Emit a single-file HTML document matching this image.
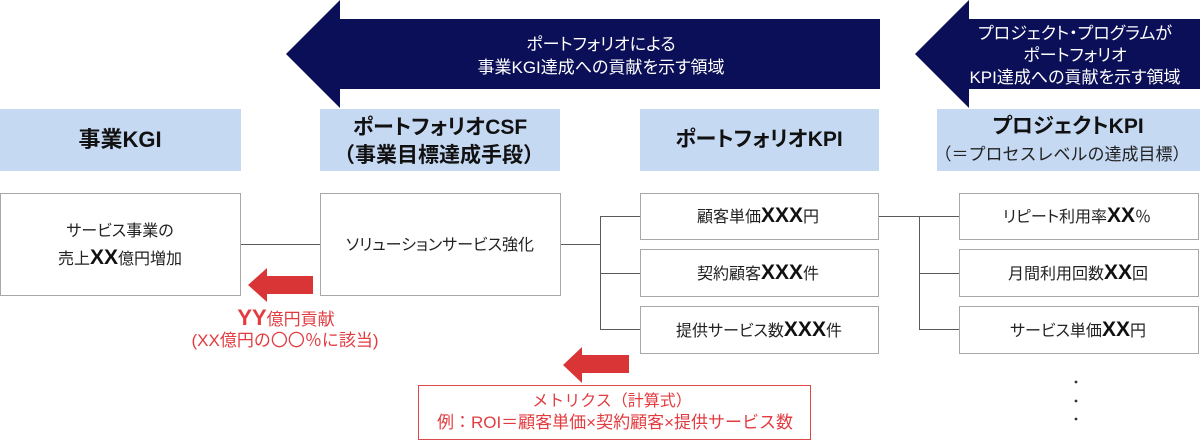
<!DOCTYPE html>
<html lang="ja">
<head>
<meta charset="utf-8">
<style>
  html,body{margin:0;padding:0;background:#fff;}
  body{width:1200px;height:445px;position:relative;overflow:hidden;
    font-family:"Liberation Sans","Noto Sans CJK JP",sans-serif;color:#1e1e1e;}
  svg{position:absolute;left:0;top:0;}
  .t{position:absolute;white-space:nowrap;text-align:center;transform:translateX(-50%);}
  .p{font-feature-settings:"palt";}
  .w{color:#fff;font-size:17px;line-height:23px;}
  .h{font-weight:bold;color:#111;}
  .n{font-size:16px;line-height:24px;color:#222;}
  .x{font-weight:bold;font-size:21px;color:#111;}
  .r{color:#e23c40;}
</style>
</head>
<body>
<svg width="1200" height="445" viewBox="0 0 1200 445">
  <polygon points="286,54 340,0 340,19 880,19 880,89 340,89 340,108" fill="#0b0f57"/>
  <polygon points="915,54 969,0 969,19 1200,19 1200,89 969,89 969,108" fill="#0b0f57"/>
  <rect x="0" y="109" width="241" height="62" fill="#c6d9f3"/>
  <rect x="320" y="109" width="240" height="62" fill="#c6d9f3"/>
  <rect x="640" y="109" width="239" height="62" fill="#c6d9f3"/>
  <rect x="937" y="109" width="263" height="62" fill="#c6d9f3"/>
  <g stroke="#5a5a5a" stroke-width="1" fill="none">
    <line x1="241" y1="244.5" x2="320" y2="244.5"/>
    <line x1="560" y1="244.5" x2="600.5" y2="244.5"/>
    <line x1="600.5" y1="216" x2="600.5" y2="330"/>
    <line x1="600.5" y1="216.5" x2="640" y2="216.5"/>
    <line x1="600.5" y1="273.5" x2="640" y2="273.5"/>
    <line x1="600.5" y1="329.5" x2="640" y2="329.5"/>
    <line x1="879" y1="216.5" x2="959" y2="216.5"/>
    <line x1="919.5" y1="216" x2="919.5" y2="330"/>
    <line x1="919.5" y1="273.5" x2="959" y2="273.5"/>
    <line x1="919.5" y1="329.5" x2="959" y2="329.5"/>
  </g>
  <g stroke="#a8a8a8" stroke-width="1" fill="#fff">
    <rect x="0.5" y="193.5" width="240" height="102"/>
    <rect x="320.5" y="193.5" width="240" height="102"/>
    <rect x="640.5" y="193.5" width="238" height="46"/>
    <rect x="640.5" y="249.5" width="238" height="47"/>
    <rect x="640.5" y="306.5" width="238" height="47"/>
    <rect x="959.5" y="193.5" width="239" height="46"/>
    <rect x="959.5" y="249.5" width="239" height="47"/>
    <rect x="959.5" y="306.5" width="239" height="47"/>
  </g>
  <polygon points="248,285 267,268 267,276 313,276 313,294 267,294 267,302" fill="#d93537"/>
  <polygon points="563,365 582,347 582,355 629,355 629,373 582,373 582,383" fill="#d93537"/>
  <rect x="418.5" y="385.5" width="392" height="54" fill="none" stroke="#e0474a" stroke-width="1"/>
  <g fill="#333">
    <circle cx="1076" cy="382" r="1.4"/>
    <circle cx="1076" cy="401" r="1.4"/>
    <circle cx="1076" cy="419" r="1.4"/>
  </g>
</svg>

<div class="t w p" style="left:601px;top:33px;">ポートフォリオによる</div>
<div class="t w p" style="left:601px;top:56px;">事業KGI達成への貢献を示す領域</div>

<div class="t w p" style="left:1075px;top:22px;">プロジェクト・プログラムが</div>
<div class="t w p" style="left:1075px;top:44px;">ポートフォリオ</div>
<div class="t w p" style="left:1075px;top:66px;">KPI達成への貢献を示す領域</div>

<div class="t h" style="left:120px;top:127px;font-size:22px;line-height:26px;">事業KGI</div>
<div class="t h p" style="left:440px;top:115px;font-size:21px;line-height:26px;">ポートフォリオCSF</div>
<div class="t h" style="left:439px;top:143px;font-size:21px;line-height:26px;">（事業目標達成手段）</div>
<div class="t h p" style="left:759px;top:127px;font-size:21px;line-height:26px;">ポートフォリオKPI</div>
<div class="t h p" style="left:1068px;top:114px;font-size:21px;line-height:26px;">プロジェクトKPI</div>
<div class="t" style="left:1062px;top:144px;font-size:17px;line-height:22px;color:#222;">（＝プロセスレベルの達成目標）</div>

<div class="t n p" style="left:120px;top:220px;">サービス事業の</div>
<div class="t n p" style="left:120px;top:246px;">売上<span class="x">XX</span>億円増加</div>
<div class="t n p" style="left:440px;top:234px;">ソリューションサービス強化</div>

<div class="t n p" style="left:758px;top:204px;">顧客単価<span class="x">XXX</span>円</div>
<div class="t n p" style="left:758px;top:261px;">契約顧客<span class="x">XXX</span>件</div>
<div class="t n p" style="left:759px;top:318px;">提供サービス数<span class="x">XXX</span>件</div>

<div class="t n p" style="left:1077px;top:204px;">リピート利用率<span class="x">XX</span>％</div>
<div class="t n p" style="left:1078px;top:261px;">月間利用回数<span class="x">XX</span>回</div>
<div class="t n p" style="left:1078px;top:318px;">サービス単価<span class="x">XX</span>円</div>

<div class="t r" style="left:286px;top:305px;font-size:17px;line-height:26px;"><span style="font-weight:bold;font-size:22px;">YY</span>億円貢献</div>
<div class="t r" style="left:285px;top:330px;font-size:17px;line-height:22px;">(XX億円の〇〇％に該当)</div>

<div class="t r" style="left:612px;top:391px;font-size:16px;line-height:21px;">メトリクス（計算式）</div>
<div class="t r" style="left:615px;top:412px;font-size:17px;line-height:22px;">例：ROI＝顧客単価×契約顧客×提供サービス数</div>
</body>
</html>
